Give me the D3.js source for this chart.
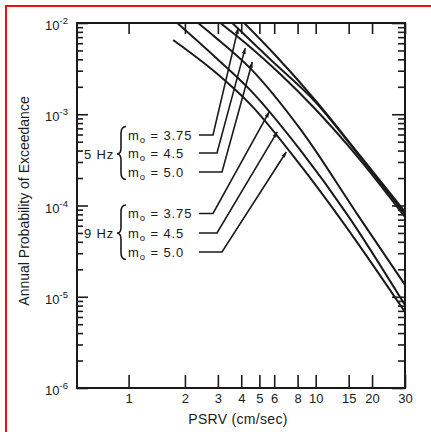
<!DOCTYPE html>
<html>
<head>
<meta charset="utf-8">
<script src="https://cdn.jsdelivr.net/npm/d3@7/dist/d3.min.js"></script>
<style>
  body { margin: 0; background: #fff; }
  text { font-family: "Liberation Sans", Arial, Helvetica, sans-serif; fill: #1a1a1a; }
</style>
</head>
<body>
<div id="chart"></div>
<script>
// values: PSRV (cm/sec) vs annual probability of exceedance
const psrv5a = [4.15, 6.07, 9.94, 17.3, 30];
const prob5a = [1.0e-2, 4.46e-3, 1.43e-3, 3.49e-4, 8.5e-5];
const psrv5b = [3.58, 5.71, 9.94, 17.3, 30];
const prob5b = [1.0e-2, 4.0e-3, 1.37e-3, 3.4e-4, 8.07e-5];
const psrv5c = [3.09, 4.46, 6.46, 9.94, 17.3, 30];
const prob5c = [1.0e-2, 5.46e-3, 2.76e-3, 1.14e-3, 3.15e-4, 7.48e-5];

const psrv9a = [2.35, 2.9, 4.46, 8.26, 16.9, 30];
const prob9a = [1.0e-2, 7.0e-3, 3.2e-3, 6.9e-4, 7.7e-5, 1.35e-5];
const psrv9b = [1.82, 2.9, 4.46, 8.26, 14.9, 30];
const prob9b = [1.0e-2, 4.24e-3, 1.85e-3, 4.06e-4, 7.7e-5, 8.1e-6];
const psrv9c = [1.73, 2.9, 4.46, 8.26, 13.2, 30];
const prob9c = [6.52e-3, 2.9e-3, 1.29e-3, 2.78e-4, 7.7e-5, 6.8e-6];

// where each leader arrow touches its curve (5 Hz rows, then 9 Hz rows)
const tipPsrv = [3.85, 4.2, 4.58, 5.64, 6.23, 6.96];
const tipProb = [8.8e-3, 5.3e-3, 3.74e-3, 1.06e-3, 6.4e-4, 3.86e-4];

const freqLabels = ["5 Hz", "9 Hz"];
const m0Labels = ["3.75", "4.5", "5.0"];
const xTicks = [1, 2, 3, 4, 5, 6, 8, 10, 15, 20, 30];
const yExps = [-2, -3, -4, -5, -6];

const W = 431, H = 432;
const mLeft = 77, mRight = 405, mTop = 23, mBottom = 388;

const svg = d3.select("#chart")
  .append("svg")
  .attr("width", W)
  .attr("height", H);

svg.append("rect")
  .attr("width", W).attr("height", H)
  .attr("fill", "#fff");

// red frame (only the top and left edges fall inside the picture)
svg.append("rect")
  .attr("x", 6).attr("y", 6)
  .attr("width", 460).attr("height", 460)
  .attr("fill", "none")
  .attr("stroke", "#f01010")
  .attr("stroke-width", 2);

const x = d3.scaleLog().domain([0.53, 30]).range([mLeft, mRight]);
const y = d3.scaleLog().domain([1e-6, 1e-2]).range([mBottom, mTop]);

const majorY = yExps.map(e => Math.pow(10, e));
const minorY = [];
for (let e = -6; e < -2; e++) {
  for (let k = 2; k <= 9; k++) minorY.push(k * Math.pow(10, e));
}

const tickStyle = g => {
  g.select(".domain").remove();
  g.selectAll(".tick line").attr("stroke", "#1a1a1a").attr("stroke-width", 1.6);
};

// x ticks, bottom (labelled) and top
svg.append("g")
  .attr("transform", `translate(0,${mBottom})`)
  .call(d3.axisBottom(x).tickValues(xTicks).tickSize(-13).tickPadding(6).tickFormat(d3.format("d")))
  .call(tickStyle)
  .call(g => g.selectAll("text").attr("font-size", 13).attr("fill", "#1a1a1a")
    .style("font-family", "'Liberation Sans', Arial, sans-serif"));

svg.append("g")
  .attr("transform", `translate(0,${mTop})`)
  .call(d3.axisTop(x).tickValues(xTicks).tickSize(-11).tickFormat(""))
  .call(tickStyle);

// y ticks, left and right, majors longer than minors
svg.append("g")
  .attr("transform", `translate(${mLeft},0)`)
  .call(d3.axisLeft(y).tickValues(majorY).tickSize(-11).tickFormat(""))
  .call(tickStyle);
svg.append("g")
  .attr("transform", `translate(${mLeft},0)`)
  .call(d3.axisLeft(y).tickValues(minorY).tickSize(-6).tickFormat(""))
  .call(tickStyle);
svg.append("g")
  .attr("transform", `translate(${mRight},0)`)
  .call(d3.axisRight(y).tickValues(majorY).tickSize(-13).tickFormat(""))
  .call(tickStyle);
svg.append("g")
  .attr("transform", `translate(${mRight},0)`)
  .call(d3.axisRight(y).tickValues(minorY).tickSize(-7).tickFormat(""))
  .call(tickStyle);

// y tick labels 10^n
const yLab = svg.append("g")
  .selectAll("text")
  .data(yExps)
  .join("text")
  .attr("x", 68)
  .attr("y", d => y(Math.pow(10, d)) + 7)
  .attr("text-anchor", "end")
  .attr("font-size", 13);
yLab.append("tspan").text("10");
yLab.append("tspan")
  .attr("dy", -6)
  .attr("font-size", 9.5)
  .text(d => "-" + (-d));

// plot frame
svg.append("rect")
  .attr("x", mLeft).attr("y", mTop)
  .attr("width", mRight - mLeft).attr("height", mBottom - mTop)
  .attr("fill", "none")
  .attr("stroke", "#1a1a1a")
  .attr("stroke-width", 2);

// curves
svg.append("clipPath").attr("id", "plot")
  .append("rect")
  .attr("x", mLeft).attr("y", mTop)
  .attr("width", mRight - mLeft).attr("height", mBottom - mTop);

const series = [
  [psrv5a, prob5a], [psrv5b, prob5b], [psrv5c, prob5c],
  [psrv9a, prob9a], [psrv9b, prob9b], [psrv9c, prob9c]
].map(([xs, ys]) => xs.map((v, i) => [v, ys[i]]));

const line = d3.line()
  .x(d => x(d[0]))
  .y(d => y(d[1]))
  .curve(d3.curveMonotoneX);

svg.append("g")
  .attr("clip-path", "url(#plot)")
  .selectAll("path")
  .data(series)
  .join("path")
  .attr("d", line)
  .attr("fill", "none")
  .attr("stroke", "#1a1a1a")
  .attr("stroke-width", 2);

// legend labels with braces and leader arrows
const rowY = [[139.5, 157.5, 176.5], [218, 237.5, 256.5]];
const elbowX = [213, 217, 222];

freqLabels.forEach((f, gi) => {
  const ys = rowY[gi];
  const mid = (ys[0] + ys[2]) / 2 - 4;
  svg.append("text")
    .attr("x", 84).attr("y", mid + 5)
    .attr("font-size", 13)
    .attr("letter-spacing", 0.8)
    .text(f);

  const t = ys[0] - 13, b = ys[2] + 3, bx = 126, tip = 117;
  svg.append("path")
    .attr("d", `M${bx},${t} Q${bx - 5},${t} ${bx - 5},${t + 7} L${bx - 5},${mid - 6} Q${bx - 5},${mid} ${tip},${mid}` +
      ` Q${bx - 5},${mid} ${bx - 5},${mid + 6} L${bx - 5},${b - 7} Q${bx - 5},${b} ${bx},${b}`)
    .attr("fill", "none")
    .attr("stroke", "#1a1a1a")
    .attr("stroke-width", 1.6);

  m0Labels.forEach((m, i) => {
    const row = svg.append("text")
      .attr("x", 128).attr("y", ys[i])
      .attr("font-size", 13)
      .attr("letter-spacing", 0.9);
    row.append("tspan").text("m");
    row.append("tspan").attr("dy", 3).attr("font-size", 9.5).text("o");
    row.append("tspan").attr("dy", -3).text(" = " + m);

    const k = gi * 3 + i;
    const ly = ys[i] - 4.5;
    const tx = x(tipPsrv[k]), ty = y(tipProb[k]);
    svg.append("path")
      .attr("d", `M199,${ly} L${elbowX[i]},${ly} L${tx},${ty}`)
      .attr("fill", "none")
      .attr("stroke", "#1a1a1a")
      .attr("stroke-width", 1.6);

    // small arrowhead pointing along the leader
    const ang = Math.atan2(ty - ly, tx - elbowX[i]);
    const a1 = ang + Math.PI - 0.35, a2 = ang + Math.PI + 0.35, len = 6;
    svg.append("path")
      .attr("d", `M${tx},${ty} L${tx + len * Math.cos(a1)},${ty + len * Math.sin(a1)} L${tx + len * Math.cos(a2)},${ty + len * Math.sin(a2)} Z`)
      .attr("fill", "#1a1a1a");
  });
});

// axis titles
svg.append("text")
  .attr("x", 238)
  .attr("y", 424)
  .attr("text-anchor", "middle")
  .attr("font-size", 14)
  .attr("letter-spacing", 0.3)
  .text("PSRV (cm/sec)");

svg.append("text")
  .attr("transform", `translate(29,201) rotate(-90)`)
  .attr("text-anchor", "middle")
  .attr("font-size", 14)
  .text("Annual Probability of Exceedance");
</script>
</body>
</html>
